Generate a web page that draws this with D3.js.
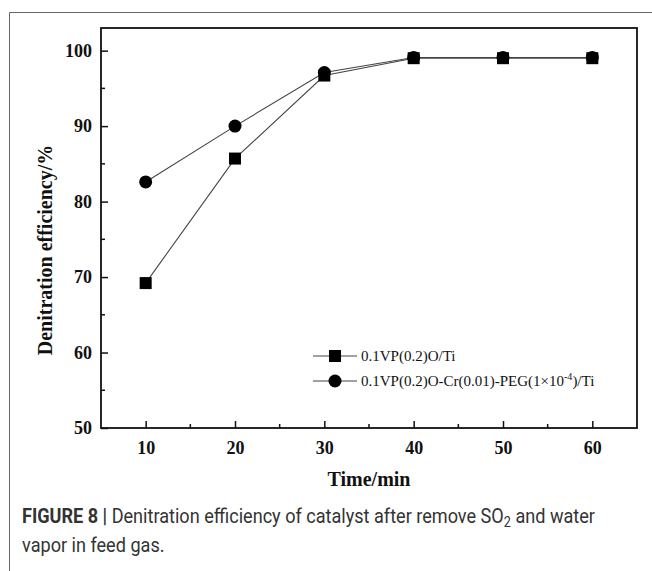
<!DOCTYPE html>
<html>
<head>
<meta charset="utf-8">
<script src="https://cdn.jsdelivr.net/npm/d3@7"></script>
<style>
  body { margin: 0; background: #fff; }
  .tick text { font-family: "Liberation Serif", "Times New Roman", serif; font-weight: bold; font-size: 18px; fill: #111; }
  .axis-title { font-family: "Liberation Serif", "Times New Roman", serif; font-weight: bold; font-size: 20px; fill: #111; }
  .legend-text { font-family: "Liberation Serif", "Times New Roman", serif; font-size: 15px; fill: #111; }
  .caption { font-family: "Roboto", "Liberation Sans", sans-serif; font-size: 20px; fill: #333; }
</style>
</head>
<body>
<div id="chart"></div>
<script>
// data
var times = [10, 20, 30, 40, 50, 60];
var vpoTi = [69.2, 85.7, 96.7, 99.0, 99.0, 99.0];
var vpoCrPegTi = [82.6, 90.0, 97.1, 99.1, 99.1, 99.1];
var seriesNames = ["0.1VP(0.2)O/Ti", "0.1VP(0.2)O-Cr(0.01)-PEG(1\u00d710", "-4", ")/Ti"];
var xTicks = [10, 20, 30, 40, 50, 60];
var yTicks = [50, 60, 70, 80, 90, 100];

var width = 652, height = 571;
var margin = {top: 28, right: 15, bottom: 143, left: 101};

var svg = d3.select("#chart").append("svg")
    .attr("width", width)
    .attr("height", height);

// outer panel frame (top + left only)
svg.append("path")
    .attr("d", "M9.5," + height + "V12.5H" + width)
    .attr("fill", "none")
    .attr("stroke", "#666")
    .attr("stroke-width", 1);

var x = d3.scaleLinear().domain([5, 65]).range([margin.left, width - margin.right]);
var y = d3.scaleLinear().domain([50, 103]).range([height - margin.bottom, margin.top]);

var g = svg.append("g");

// minor ticks
var xMinor = d3.range(15, 65, 10);
var yMinor = d3.range(55, 101, 10);
g.selectAll(".xminor").data(xMinor).enter().append("line")
    .attr("x1", function(d) { return x(d); }).attr("x2", function(d) { return x(d); })
    .attr("y1", y(50)).attr("y2", y(50) - 4)
    .attr("stroke", "#111").attr("stroke-width", 1.5);
g.selectAll(".yminor").data(yMinor).enter().append("line")
    .attr("x1", x(5)).attr("x2", x(5) + 4)
    .attr("y1", function(d) { return y(d); }).attr("y2", function(d) { return y(d); })
    .attr("stroke", "#111").attr("stroke-width", 1.5);

// axes, ticks inward
var xAxis = g.append("g")
    .attr("transform", "translate(0," + y(50) + ")")
    .call(d3.axisBottom(x).tickValues(xTicks).tickSizeInner(-7).tickSizeOuter(0).tickPadding(13));
var yAxis = g.append("g")
    .attr("transform", "translate(" + x(5) + ",0)")
    .call(d3.axisLeft(y).tickValues(yTicks).tickSizeInner(-7).tickSizeOuter(0).tickPadding(9));
[xAxis, yAxis].forEach(function(a) {
    a.select(".domain").remove();
    a.selectAll(".tick line").attr("stroke", "#111").attr("stroke-width", 1.5);
});

// plot box
g.append("rect")
    .attr("x", x(5)).attr("y", y(103))
    .attr("width", x(65) - x(5)).attr("height", y(50) - y(103))
    .attr("fill", "none").attr("stroke", "#111").attr("stroke-width", 1.8);

// lines
var line = d3.line().x(function(d) { return x(d[0]); }).y(function(d) { return y(d[1]); });
var sq = d3.zip(times, vpoTi);
var ci = d3.zip(times, vpoCrPegTi);

g.append("path").datum(sq).attr("d", line)
    .attr("fill", "none").attr("stroke", "#444").attr("stroke-width", 1.1);
g.append("path").datum(ci).attr("d", line)
    .attr("fill", "none").attr("stroke", "#444").attr("stroke-width", 1.1);

var sqSize = 12, ciR = 6.5;
g.selectAll(".sq").data(sq).enter().append("rect")
    .attr("x", function(d) { return x(d[0]) - sqSize / 2; })
    .attr("y", function(d) { return y(d[1]) - sqSize / 2; })
    .attr("width", sqSize).attr("height", sqSize)
    .attr("fill", "#000");
g.selectAll(".ci").data(ci).enter().append("circle")
    .attr("cx", function(d) { return x(d[0]); })
    .attr("cy", function(d) { return y(d[1]); })
    .attr("r", ciR)
    .attr("fill", "#000");

// legend
var lg = svg.append("g").attr("transform", "translate(313,356)");
lg.append("line").attr("x1", 0).attr("x2", 44).attr("y1", 0).attr("y2", 0)
    .attr("stroke", "#444").attr("stroke-width", 1.1);
lg.append("rect").attr("x", 16).attr("y", -6).attr("width", sqSize).attr("height", sqSize).attr("fill", "#000");
lg.append("text").attr("class", "legend-text").attr("x", 48).attr("y", 5).text(seriesNames[0]);

lg.append("line").attr("x1", 0).attr("x2", 44).attr("y1", 25).attr("y2", 25)
    .attr("stroke", "#444").attr("stroke-width", 1.1);
lg.append("circle").attr("cx", 22).attr("cy", 25).attr("r", ciR).attr("fill", "#000");
var t2 = lg.append("text").attr("class", "legend-text").attr("x", 48).attr("y", 30);
t2.append("tspan").text(seriesNames[1]);
t2.append("tspan").attr("dy", -6).attr("font-size", 10).text(seriesNames[2]);
t2.append("tspan").attr("dy", 6).text(seriesNames[3]);

// axis titles
svg.append("text").attr("class", "axis-title")
    .attr("x", (x(5) + x(65)) / 2).attr("y", 486)
    .attr("text-anchor", "middle").text("Time/min");
svg.append("text").attr("class", "axis-title")
    .attr("font-size", 24)
    .attr("transform", "translate(52,250) rotate(-90)")
    .attr("text-anchor", "middle").text("Denitration efficiency/%");

// caption, horizontally condensed to match the narrow journal face
var cap = svg.append("g").attr("transform", "translate(22,0) scale(0.905,1)");
var c1 = cap.append("text").attr("class", "caption").attr("x", 0).attr("y", 523);
c1.append("tspan").attr("font-weight", "bold").text("FIGURE 8 | ");
c1.append("tspan").text("Denitration efficiency of catalyst after remove SO");
c1.append("tspan").attr("font-size", 14).attr("dy", 4).text("2");
c1.append("tspan").attr("dy", -4).text(" and water");
cap.append("text").attr("class", "caption").attr("x", 0).attr("y", 552)
    .text("vapor in feed gas.");
</script>
</body>
</html>
